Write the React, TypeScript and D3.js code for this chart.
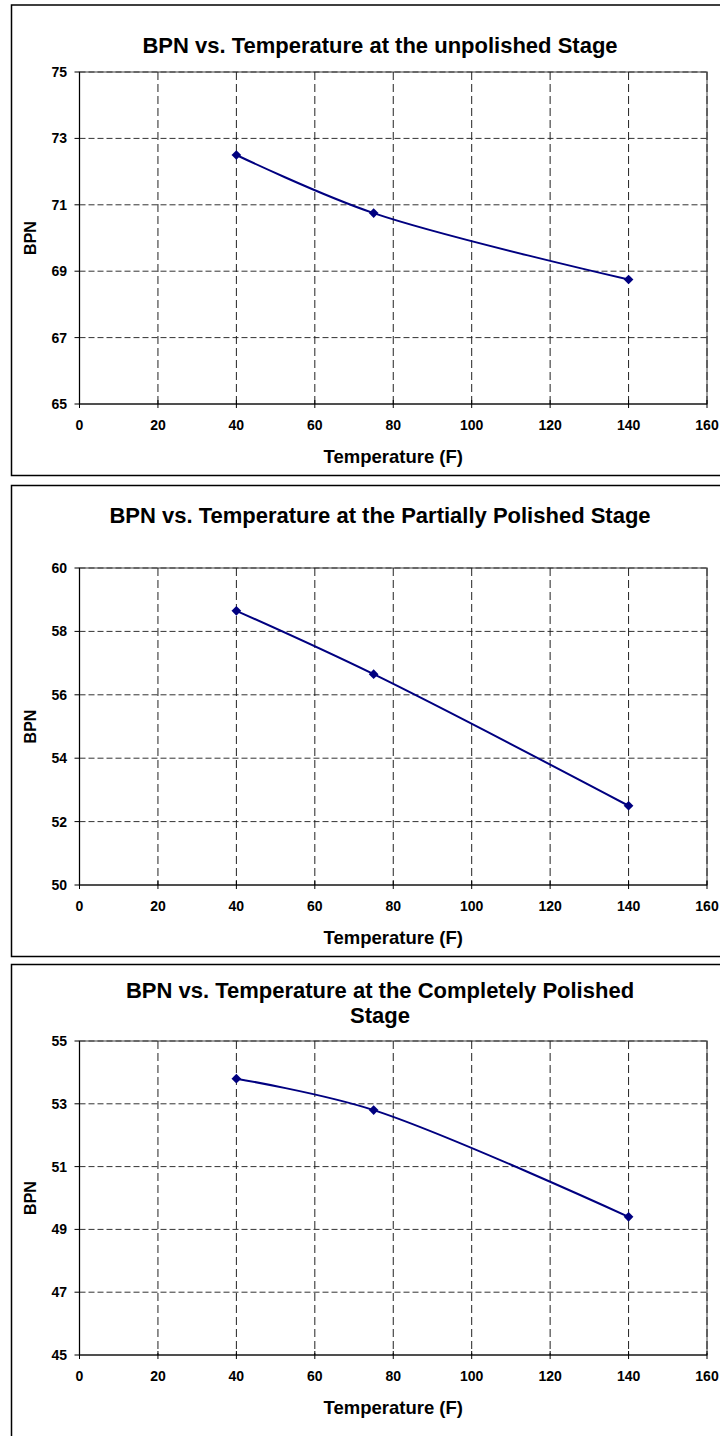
import React from "react";
import * as d3 from "d3";

const temperatures = [40, 75, 140];
const bpnUnpolished = [72.5, 70.75, 68.75];
const bpnPartial = [58.65, 56.65, 52.5];
const bpnComplete = [53.8, 52.8, 49.4];

const xTicks = [0, 20, 40, 60, 80, 100, 120, 140, 160];
const yTicks1 = [65, 67, 69, 71, 73, 75];
const yTicks2 = [50, 52, 54, 56, 58, 60];
const yTicks3 = [45, 47, 49, 51, 53, 55];

const titles1 = ["BPN vs. Temperature at the unpolished Stage"];
const titles2 = ["BPN vs. Temperature at the Partially Polished Stage"];
const titles3 = ["BPN vs. Temperature at the Completely Polished", "Stage"];

const FONT = "'Liberation Sans', Arial, sans-serif";

type PanelProps = {
  top: number;
  bottom: number;
  titleY: number[];
  titles: string[];
  plotTop: number;
  plotBottom: number;
  yTicks: number[];
  values: number[];
};

const PLOT_L = 79.5;
const PLOT_R = 707;

function Panel(p: PanelProps) {
  const x = d3.scaleLinear().domain([0, 160]).range([PLOT_L, PLOT_R]);
  const y = d3
    .scaleLinear()
    .domain([p.yTicks[0], p.yTicks[p.yTicks.length - 1]])
    .range([p.plotBottom, p.plotTop]);
  const pts = temperatures.map((t, i) => [x(t), y(p.values[i])] as [number, number]);
  const line = d3.line().curve(d3.curveCatmullRom.alpha(0.5))(pts) || "";
  const diamond = d3.symbol().type(d3.symbolDiamond2).size(60)() || "";
  const cy = (p.plotTop + p.plotBottom) / 2;
  return (
    <g>
      <rect
        x={11.5}
        y={p.top}
        width={760}
        height={p.bottom - p.top}
        fill="#fff"
        stroke="#000"
        strokeWidth={1.5}
      />
      {p.titles.map((t, i) => (
        <text
          key={i}
          x={380}
          y={p.titleY[i]}
          textAnchor="middle"
          dominantBaseline="central"
          fontFamily={FONT}
          fontWeight="bold"
          fontSize={22}
          fill="#000"
        >
          {t}
        </text>
      ))}
      <rect
        x={PLOT_L}
        y={p.plotTop}
        width={PLOT_R - PLOT_L}
        height={p.plotBottom - p.plotTop}
        fill="none"
        stroke="#808080"
        strokeWidth={1.5}
      />
      {p.yTicks.slice(1).map((v) => (
        <line
          key={"h" + v}
          x1={PLOT_L}
          x2={PLOT_R}
          y1={y(v)}
          y2={y(v)}
          stroke="#333"
          strokeWidth={1}
          strokeDasharray="6,3"
        />
      ))}
      {xTicks.slice(1).map((v) => (
        <line
          key={"v" + v}
          x1={x(v)}
          x2={x(v)}
          y1={p.plotTop}
          y2={p.plotBottom}
          stroke="#222"
          strokeWidth={1}
          strokeDasharray="8,4"
        />
      ))}
      <line x1={PLOT_L} x2={PLOT_L} y1={p.plotTop} y2={p.plotBottom} stroke="#000" strokeWidth={1} />
      <line x1={PLOT_L} x2={PLOT_R} y1={p.plotBottom} y2={p.plotBottom} stroke="#000" strokeWidth={1} />
      {p.yTicks.map((v) => (
        <g key={"yt" + v}>
          <line x1={PLOT_L - 5} x2={PLOT_L} y1={y(v)} y2={y(v)} stroke="#000" strokeWidth={1} />
          <text
            x={67}
            y={y(v)}
            textAnchor="end"
            dominantBaseline="central"
            fontFamily={FONT}
            fontWeight="bold"
            fontSize={14}
          >
            {v}
          </text>
        </g>
      ))}
      {xTicks.map((v) => (
        <g key={"xt" + v}>
          <line x1={x(v)} x2={x(v)} y1={p.plotBottom - 4} y2={p.plotBottom + 4} stroke="#000" strokeWidth={1} />
          <text
            x={x(v)}
            y={p.plotBottom + 21}
            textAnchor="middle"
            dominantBaseline="central"
            fontFamily={FONT}
            fontWeight="bold"
            fontSize={14}
          >
            {v}
          </text>
        </g>
      ))}
      <text
        x={(PLOT_L + PLOT_R) / 2}
        y={p.plotBottom + 52}
        textAnchor="middle"
        dominantBaseline="central"
        fontFamily={FONT}
        fontWeight="bold"
        fontSize={18.5}
      >
        Temperature (F)
      </text>
      <text
        transform={`translate(30,${cy}) rotate(-90)`}
        textAnchor="middle"
        dominantBaseline="central"
        fontFamily={FONT}
        fontWeight="bold"
        fontSize={16}
      >
        BPN
      </text>
      <path d={line} fill="none" stroke="#000080" strokeWidth={2} />
      {pts.map((pt, i) => (
        <path key={"m" + i} d={diamond} transform={`translate(${pt[0]},${pt[1]})`} fill="#000080" />
      ))}
    </g>
  );
}

export default function App() {
  return (
    <div style={{ position: "absolute", left: 0, top: 0 }}>
      <svg width={720} height={1436} style={{ display: "block", background: "#fff" }}>
        <Panel
          top={5}
          bottom={475.5}
          titles={titles1}
          titleY={[45]}
          plotTop={72}
          plotBottom={404}
          yTicks={yTicks1}
          values={bpnUnpolished}
        />
        <Panel
          top={485.5}
          bottom={956.5}
          titles={titles2}
          titleY={[515]}
          plotTop={568}
          plotBottom={885}
          yTicks={yTicks2}
          values={bpnPartial}
        />
        <Panel
          top={964.5}
          bottom={1460}
          titles={titles3}
          titleY={[990, 1015]}
          plotTop={1041}
          plotBottom={1355}
          yTicks={yTicks3}
          values={bpnComplete}
        />
      </svg>
    </div>
  );
}
